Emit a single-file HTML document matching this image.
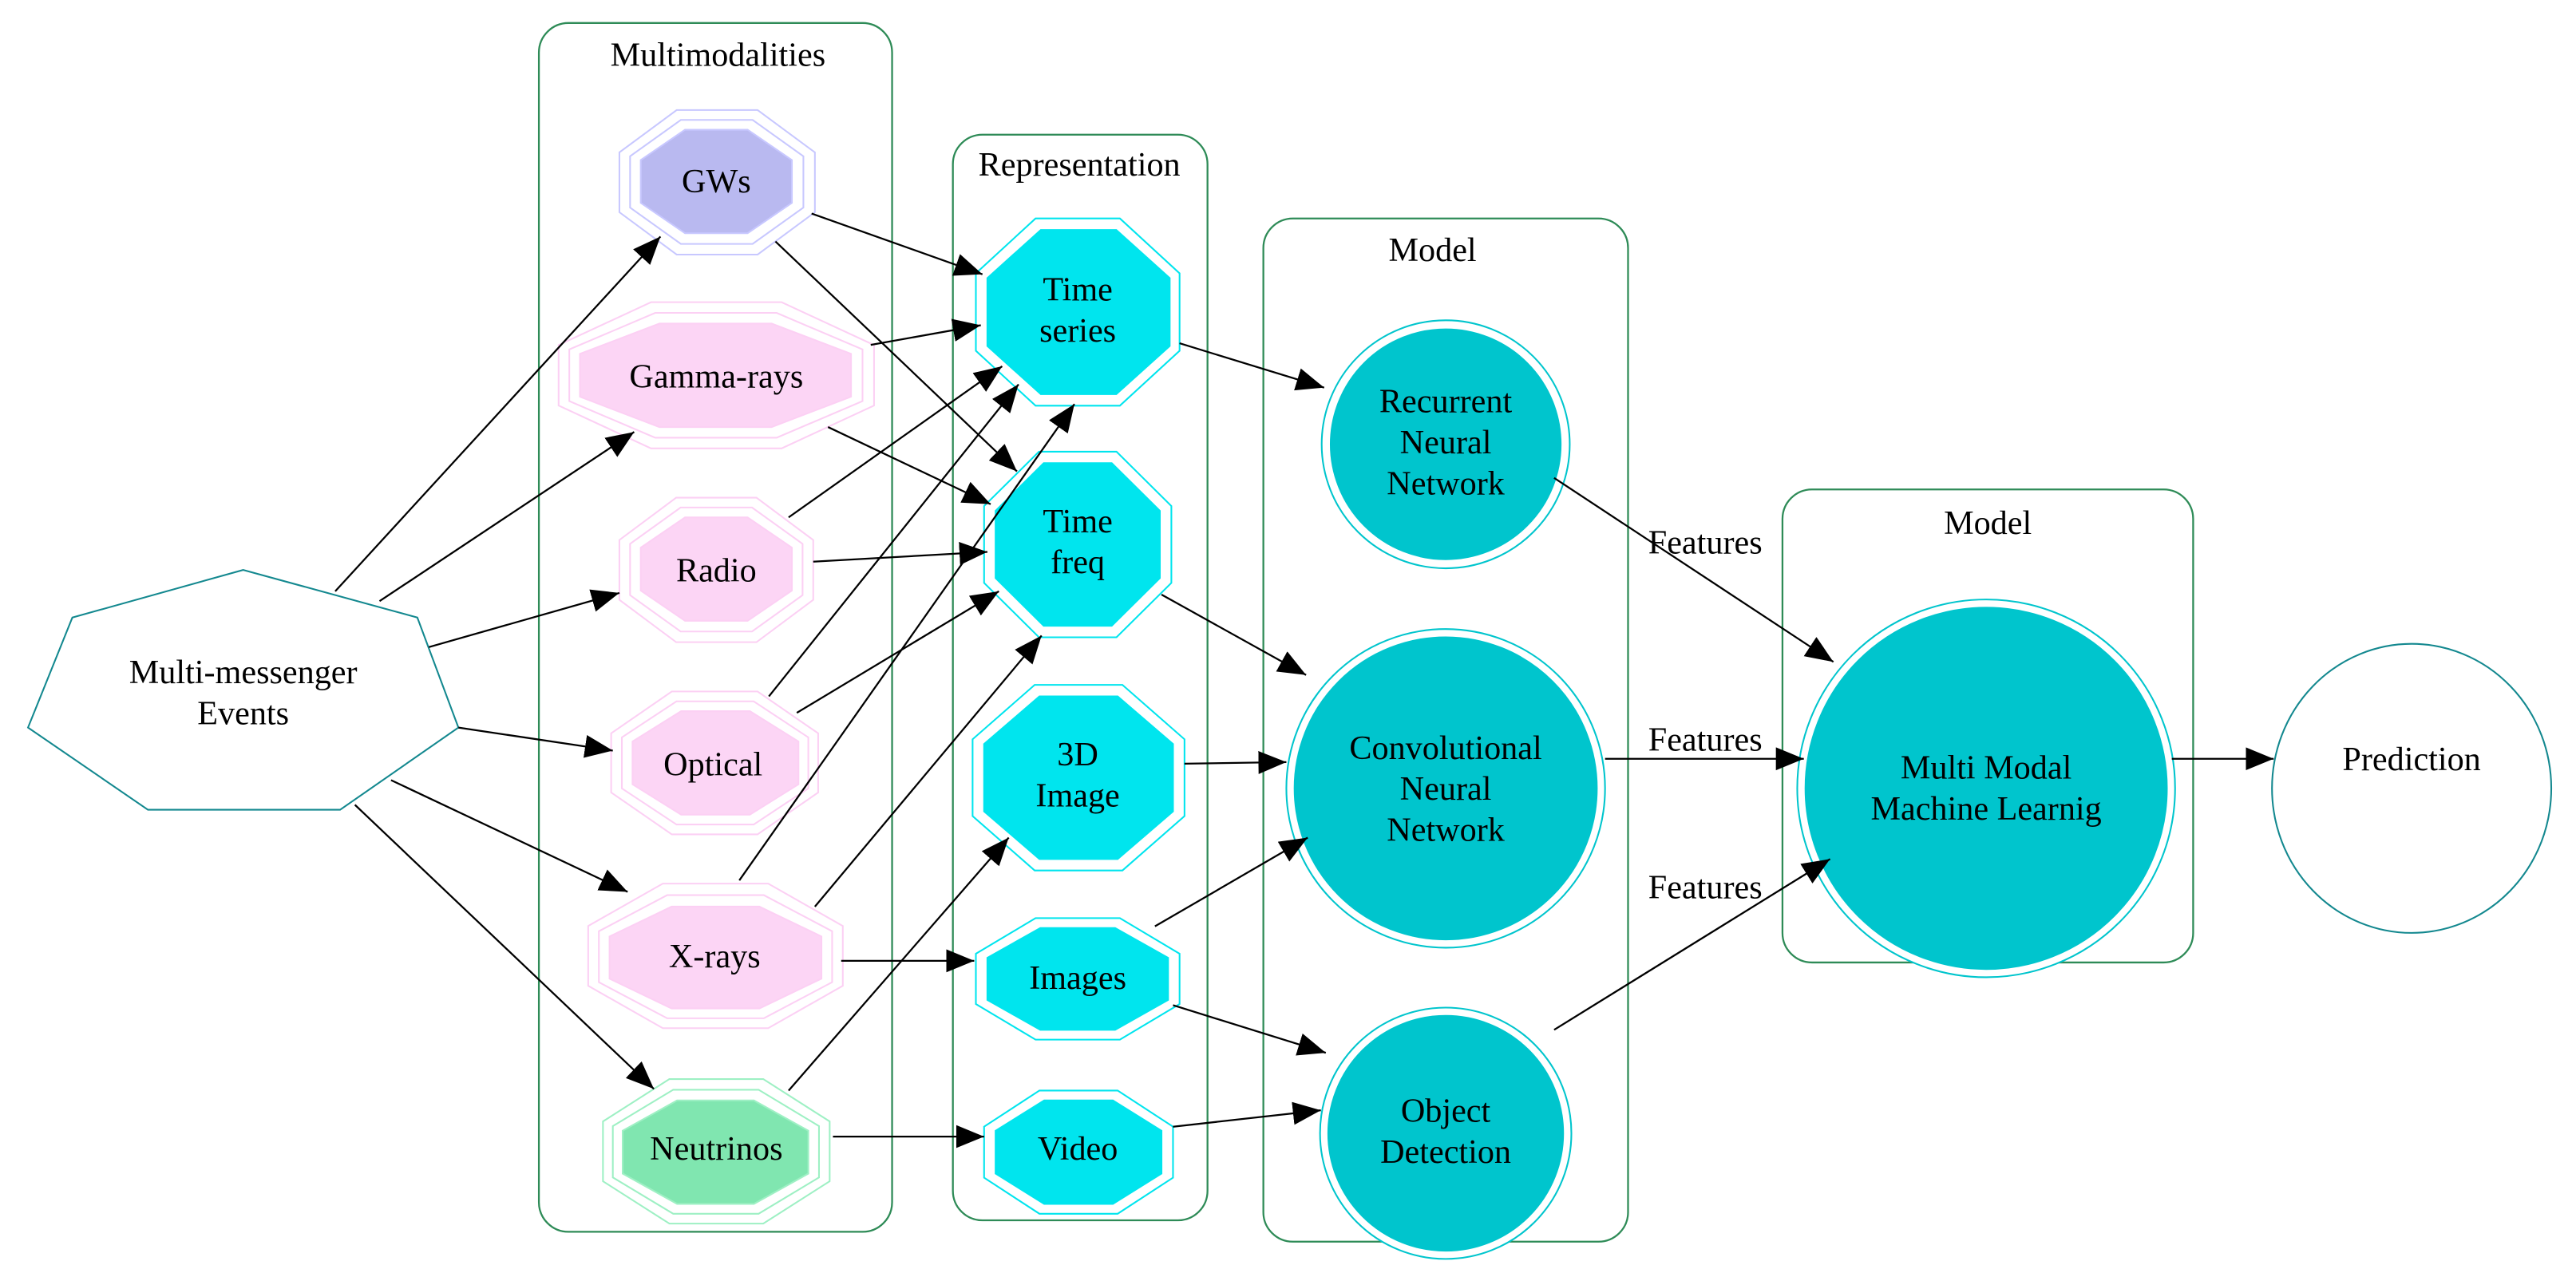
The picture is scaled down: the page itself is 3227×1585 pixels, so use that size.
<!DOCTYPE html>
<html><head><meta charset="utf-8"><style>
html,body{margin:0;padding:0;background:#fff;}
svg{display:block;}
text{font-family:"Liberation Serif","DejaVu Serif",serif;font-size:20.5px;fill:#000;text-anchor:middle;}
</style></head><body>
<svg id="s" width="3227" height="1585" viewBox="0 0 1568 770.2" xmlns="http://www.w3.org/2000/svg" font-family="Liberation Serif, serif">
<defs>
<marker id="a" markerUnits="userSpaceOnUse" markerWidth="20" markerHeight="16" refX="17" refY="7" orient="auto">
<path d="M0,0 L17,7 L0,14 z" fill="#000"/>
</marker>
</defs>
<g fill="none" stroke="#2e8b57" stroke-width="1.1">
<rect x="328" y="14" width="215" height="736" rx="18"/>
<rect x="580" y="82" width="155" height="661" rx="18"/>
<rect x="769" y="133" width="222" height="623" rx="18"/>
<rect x="1085" y="298" width="250" height="288" rx="18"/>
</g>
<g font-family="Liberation Serif, serif">
<text x="437" y="40">Multimodalities</text>
<text x="657" y="107">Representation</text>
<text x="872" y="159">Model</text>
<text x="1210" y="325">Model</text>
</g>
<g id="shapes"></g>
<g id="edges" stroke="#000" stroke-width="1.1" fill="none"></g>
<g font-family="Liberation Serif, serif">
<text x="148" y="416">Multi-messenger</text><text x="148" y="441">Events</text>
<text x="436" y="117">GWs</text>
<text x="436" y="236">Gamma-rays</text>
<text x="436" y="354">Radio</text>
<text x="434" y="472">Optical</text>
<text x="435" y="589">X-rays</text>
<text x="436" y="706">Neutrinos</text>
<text x="656" y="183">Time</text><text x="656" y="208">series</text>
<text x="656" y="324">Time</text><text x="656" y="349">freq</text>
<text x="656" y="466">3D</text><text x="656" y="491">Image</text>
<text x="656" y="602">Images</text>
<text x="656" y="706">Video</text>
<text x="880" y="251">Recurrent</text><text x="880" y="276">Neural</text><text x="880" y="301">Network</text>
<text x="880" y="462">Convolutional</text><text x="880" y="487">Neural</text><text x="880" y="512">Network</text>
<text x="880" y="683">Object</text><text x="880" y="708">Detection</text>
<text x="1209" y="474">Multi Modal</text><text x="1209" y="499">Machine Learnig</text>
<text x="1468" y="469">Prediction</text>
<text x="1038" y="337">Features</text>
<text x="1038" y="457">Features</text>
<text x="1038" y="547">Features</text>
</g>
</svg>
<script>
var NS="http://www.w3.org/2000/svg";
var sh=document.getElementById("shapes"),ed=document.getElementById("edges");
function el(p,tag,at){var e=document.createElementNS(NS,tag);for(var k in at)e.setAttribute(k,at[k]);p.appendChild(e);return e;}
function oct(x1,x2,y1,y2,fill,stroke){
 var w=x2-x1,h=y2-y1,cx=(x1+x2)/2,cy=(y1+y2)/2,a=w/2,b=h/2,k=0.414;
 var p=[[cx-a*k,y1],[cx+a*k,y1],[x2,cy-b*k],[x2,cy+b*k],[cx+a*k,y2],[cx-a*k,y2],[x1,cy+b*k],[x1,cy-b*k]];
 el(sh,"polygon",{points:p.map(function(q){return q.join(",")}).join(" "),fill:fill,stroke:stroke,"stroke-width":1});
}
function mid(o,i){return [(o[0]+i[0])/2,(o[1]+i[1])/2,(o[2]+i[2])/2,(o[3]+i[3])/2];}
function multi(o,i,fill,stroke){
 oct(o[0],o[1],o[2],o[3],"#fff",stroke);
 var m=mid(o,i);oct(m[0],m[1],m[2],m[3],"none",stroke);
 oct(i[0],i[1],i[2],i[3],fill,stroke);
}
multi([377,496,67,155],[390,482,79,142],"#b9b9f0","#c8c8ff");
multi([340,532,184,273],[353,518,197,260],"#fcd5f5","#fcd0f4");
multi([377,495,303,391],[390,482,315,378],"#fcd5f5","#fcd0f4");
multi([372,498,421,508],[385,486,433,496],"#fcd5f5","#fcd0f4");
multi([358,513,538,626],[371,500,552,614],"#fcd5f5","#fcd0f4");
multi([367,505,657,745],[379,492,670,733],"#80e6b0","#9ef0c4");
function rep(o,i){oct(o[0],o[1],o[2],o[3],"#fff","#00e5ee");oct(i[0],i[1],i[2],i[3],"#00e5ee","#00e5ee");}
rep([594,718,133,247],[601,712,140,240]);
rep([599,713,275,388],[606,706,282,381]);
rep([592,721,417,530],[599,714,424,523]);
rep([594,718,559,633],[601,711,565,627]);
rep([599,714,664,739],[606,707,670,733]);
el(sh,"polygon",{points:"148,347 254,376 279,443 207,493 90,493 17,443 44,376",fill:"#fff",stroke:"#13888f","stroke-width":1});
function circ(cx,cy,r1,r2){el(sh,"circle",{cx:cx,cy:cy,r:r1,fill:"#fff",stroke:"#00c5cd","stroke-width":1});el(sh,"circle",{cx:cx,cy:cy,r:r2,fill:"#00c5cd",stroke:"#00c5cd","stroke-width":1});}
circ(880,270.5,75.5,70);
circ(880,480,97,92);
circ(880,690,76.5,71.5);
circ(1209,480,115,110);
el(sh,"ellipse",{cx:1468,cy:480,rx:85,ry:88,fill:"#fff",stroke:"#13888f","stroke-width":1});
var E=[[204,360,402,144],[231,366,386,263],[261,394,377,361],[279,443,373,457],[238,475,382,543],[216,490,398,663],
[494,130,598,167],[472,147,619,287],[530,210,597,198],[504,260,603,307],[480,315,610,223],[495,342,601,336],
[468,424,620,234],[485,434,608,360],[450,536,654,246],[496,552,634,387],[512,585,593,585],[480,664,614,510],[507,692,599,692],
[718,209,806,236],[707,362,795,411],[721,465,783,464],[703,564,796,510],[714,612,807,641],[714,686,804,676],
[946,291,1116,403],[977,462,1098,462],[946,627,1114,523],[1322,462,1384,462]];
E.forEach(function(e){el(ed,"line",{x1:e[0],y1:e[1],x2:e[2],y2:e[3],"marker-end":"url(#a)"});});
</script>
</body></html>
